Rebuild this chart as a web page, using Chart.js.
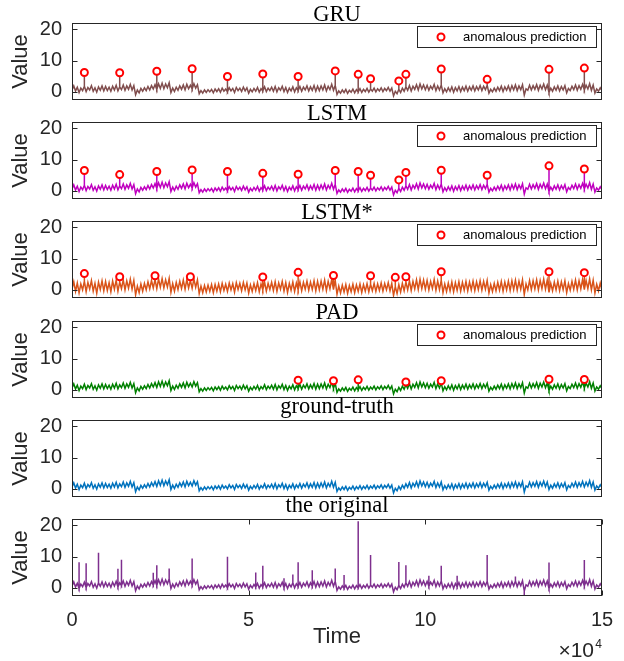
<!DOCTYPE html>
<html>
<head>
<meta charset="utf-8">
<script src="https://cdn.jsdelivr.net/npm/chart.js@4"></script>
<style>
  body { margin: 0; background: #ffffff; }
  #wrap { position: relative; width: 624px; height: 661px; }
  #wrap canvas { position: absolute; left: 0; }
</style>
</head>
<body>
<div id="wrap"></div>
<script>
// sample spacing of the series, in units of 10^4
const timeStep = 0.05

// ground-truth signal, one row per 1x10^4 of time
const groundTruth = [
  0.6,1.9,0.3,1.5,-0.2,1.2,0.4,1.8,0.1,1.4,0.6,2.0,0.2,1.3,-0.1,1.6,0.5,1.9,0.3,1.7,
  0.4,1.5,0.2,1.8,0.6,2.1,0.3,1.6,0.7,2.2,0.5,1.9,0.8,2.4,0.6,2.0,-0.9,0.6,-0.3,1.1,
  0.2,1.3,0.4,1.7,0.6,2.0,0.9,2.3,0.8,2.6,1.1,2.8,1.0,2.5,1.3,2.9,-0.2,1.2,0.1,1.5,
  0.5,1.9,0.8,2.2,0.6,2.4,1.0,2.1,0.9,2.6,1.2,2.3,-0.6,0.4,-0.4,0.6,-0.2,0.7,0.0,0.8,
  -0.3,0.9,0.1,1.0,-0.1,1.2,0.2,0.9,0.0,1.3,0.3,1.1,-0.2,1.4,0.4,1.2,0.1,1.5,0.3,1.3,
  -0.4,0.8,0.0,1.1,0.2,1.4,-0.1,1.0,0.3,1.6,0.1,1.2,0.4,1.5,0.2,1.7,0.0,1.3,0.5,1.8,
  0.1,1.4,-0.2,1.2,0.3,1.6,0.0,1.3,0.4,1.7,0.2,1.5,0.6,1.9,0.3,1.6,0.5,2.0,0.2,1.8,
  0.4,1.9,0.6,2.2,0.3,1.8,0.7,2.4,0.5,2.1,-0.8,0.3,-0.4,0.6,-0.2,0.8,-0.5,0.5,-0.1,0.9,
  -0.3,0.7,0.0,1.0,-0.2,0.8,0.1,1.1,-0.1,0.9,0.2,1.2,0.0,1.0,0.3,1.3,0.1,1.1,0.4,1.4,
  0.2,1.2,-1.3,0.2,-0.6,0.8,-0.2,1.2,0.2,1.6,0.5,2.0,0.3,1.8,0.8,2.3,0.6,2.5,0.9,2.2,
  0.7,2.1,0.5,1.8,0.9,2.4,0.4,1.9,0.6,2.2,-0.3,1.0,0.0,1.3,0.2,1.6,-0.1,1.4,0.3,1.7,
  0.1,1.5,0.4,1.8,0.2,1.6,0.5,1.9,0.3,1.7,0.6,2.0,0.4,1.8,0.7,2.1,-0.4,0.8,0.0,1.2,
  0.2,1.5,0.4,1.8,0.1,1.6,0.5,1.9,0.3,2.0,0.6,2.2,0.4,1.9,0.7,2.3,-1.0,1.0,0.5,2.1,
  0.6,2.0,0.8,2.3,0.5,2.1,0.9,2.5,0.7,2.2,-0.2,1.2,0.2,1.6,0.5,1.9,0.3,1.7,0.6,2.0,
  -0.3,1.1,0.4,1.8,0.7,2.2,0.5,2.0,0.8,2.4,0.6,2.1,0.9,2.6,0.5,2.2,-0.4,0.9,0.2,1.3,
  0.4
]

// LSTM* reconstruction is noisier than the others
const lstmStarSignal = [
  0.2,2.6,-0.5,2.2,-1.0,1.9,0.0,2.8,-0.6,2.4,0.3,3.0,-0.4,2.1,-1.1,2.5,0.1,2.9,-0.3,2.7,
  -0.2,2.3,-0.6,2.8,0.2,3.1,-0.4,2.5,0.4,3.2,0.0,2.9,0.5,3.4,0.2,3.0,-1.6,1.2,-0.9,1.9,
  -0.4,2.1,0.0,2.6,0.3,3.0,0.6,3.3,0.4,3.5,0.8,3.6,0.6,3.2,0.9,3.7,-0.8,2.0,-0.4,2.4,
  0.1,2.8,0.4,3.1,0.2,3.3,0.6,3.0,0.5,3.5,0.8,3.2,-1.2,1.2,-0.9,1.4,-0.7,1.5,-0.5,1.7,
  -0.9,1.7,-0.4,1.9,-0.6,2.1,-0.2,1.8,-0.5,2.2,0.0,2.0,-0.7,2.3,0.1,2.1,-0.3,2.4,0.0,2.2,
  -1.0,1.6,-0.5,2.0,-0.2,2.3,-0.6,1.9,0.0,2.5,-0.4,2.1,0.1,2.4,-0.2,2.6,-0.5,2.2,0.2,2.7,
  -0.4,2.3,-0.8,2.1,-0.1,2.5,-0.5,2.2,0.0,2.6,-0.3,2.4,0.2,2.8,-0.1,2.5,0.1,2.9,-0.3,2.7,
  0.0,2.8,0.2,3.1,-0.2,2.7,0.3,3.3,0.1,3.0,-1.4,1.2,-1.0,1.5,-0.7,1.7,-1.1,1.4,-0.6,1.8,
  -0.9,1.6,-0.5,1.9,-0.8,1.7,-0.4,2.0,-0.6,1.8,-0.3,2.1,-0.5,1.9,-0.2,2.2,-0.4,2.0,0.0,2.3,
  -0.3,2.1,-1.8,1.1,-1.2,1.7,-0.7,2.1,-0.3,2.5,0.0,2.9,-0.2,2.7,0.3,3.2,0.1,3.4,0.4,3.1,
  0.2,3.0,0.0,2.7,0.4,3.3,-0.1,2.8,0.1,3.1,-0.9,1.9,-0.5,2.2,-0.3,2.5,-0.6,2.3,-0.2,2.6,
  -0.4,2.4,-0.1,2.7,-0.3,2.5,0.0,2.8,-0.2,2.6,0.1,2.9,-0.1,2.7,0.2,3.0,-1.0,1.7,-0.5,2.1,
  -0.3,2.4,-0.1,2.7,-0.4,2.5,0.0,2.8,-0.2,2.9,0.1,3.1,-0.1,2.8,0.2,3.2,-1.5,1.9,0.0,3.0,
  0.1,2.9,0.3,3.2,0.0,3.0,0.4,3.4,0.2,3.1,-0.8,2.1,-0.3,2.5,0.0,2.8,-0.2,2.6,0.1,2.9,
  -0.9,2.0,-0.1,2.7,0.2,3.1,0.0,2.9,0.3,3.3,0.1,3.0,0.4,3.5,0.0,3.1,-1.0,1.8,-0.3,2.2,
  -0.2
]

// anomalous predictions (time x10^4, value)
const anomalyTimes = [0.35,1.35,2.40,3.40,4.40,5.40,6.40,7.45,8.10,8.45,9.25,9.45,10.45,11.75,13.50,14.50]
const gruPeaks = [6.2,6.1,6.6,7.4,4.9,5.7,4.9,6.7,5.6,4.2,3.5,5.6,7.3,4.0,7.2,7.6]
const lstmPeaks = [6.5,5.2,6.2,6.7,6.2,5.6,5.3,6.5,6.2,5.0,3.5,5.9,6.6,5.0,8.0,7.0]

const lstmStarTimes = [0.35,1.35,2.35,3.35,5.40,6.40,7.40,8.45,9.15,9.45,10.45,13.50,14.50]
const lstmStarPeaks = [5.2,4.2,4.5,4.2,4.1,5.6,4.6,4.5,4.0,4.2,5.8,5.8,5.5]

const padTimes = [6.40,7.40,8.10,9.45,10.45,13.50,14.50]
const padPeaks = [3.1,2.9,3.2,2.5,2.9,3.4,3.3]

// spikes present in the original series
const originalTimes = [0.20,0.40,0.75,1.30,1.40,2.30,2.40,2.75,3.40,4.40,5.20,5.40,6.00,6.25,6.40,6.80,7.45,7.70,8.10,8.45,9.25,9.45,10.10,10.45,10.90,11.75,12.55,12.80,13.50,14.50]
const originalPeaks = [8.2,7.9,11.2,6.1,9.0,4.8,7.2,6.2,9.4,9.9,4.9,7.1,3.1,4.3,8.2,5.6,6.2,4.1,21.3,10.5,8.3,7.2,3.9,7.1,3.9,10.5,3.6,-2.6,8.1,8.9]

const yTickValues = [0, 10, 20]
const xTickValues = [0, 5, 10, 15]
const legendLabel = "anomalous prediction"

const AXIS_COLOR = "#262626"
const SANS = '"Liberation Sans", Arial, sans-serif'
const SERIF = '"Liberation Serif", "Times New Roman", serif'

Chart.defaults.font.family = SANS

// base signal with spikes inserted as vertical strokes at the given times
function buildSeries(signal, times, peaks) {
  const spikeAt = {}
  times.forEach((t, k) => { spikeAt[Math.round(t / timeStep)] = peaks[k] })
  const pts = []
  signal.forEach((v, i) => {
    const x = i * timeStep
    pts.push({x: x, y: v})
    if (spikeAt[i] !== undefined) {
      pts.push({x: x, y: spikeAt[i]}, {x: x, y: v})
    }
  })
  return pts
}

// box, inward ticks, panel title, legend, axis exponent
const framePlugin = {
  id: "frame",
  afterDatasetsDraw(chart, args, opts) {
    const {ctx, chartArea: a} = chart
    const y = chart.scales.y
    const x = chart.scales.x
    const L = Math.round(a.left) + 0.5
    const R = Math.round(a.right) - 0.5
    const T = Math.round(a.top) + 0.5
    const B = Math.round(a.bottom) - 0.5
    ctx.save()
    ctx.strokeStyle = AXIS_COLOR
    ctx.lineWidth = 1
    ctx.strokeRect(L, T, R - L, B - T)
    ctx.beginPath()
    yTickValues.forEach(v => {
      const py = Math.round(y.getPixelForValue(v)) + 0.5
      ctx.moveTo(L, py); ctx.lineTo(L + 5, py)
      ctx.moveTo(R, py); ctx.lineTo(R - 5, py)
    })
    if (opts.xTicks) {
      xTickValues.forEach(v => {
        const px = Math.round(x.getPixelForValue(v)) + 0.5
        ctx.moveTo(px, B); ctx.lineTo(px, B - 5)
        ctx.moveTo(px, T); ctx.lineTo(px, T + 5)
      })
    }
    ctx.stroke()

    // title sits on the axes box by its glyph bottom
    ctx.font = "22.5px " + SERIF
    ctx.fillStyle = "#000000"
    ctx.textAlign = "center"
    ctx.textBaseline = "alphabetic"
    const m = ctx.measureText(opts.title)
    const desc = Math.max(0, m.actualBoundingBoxDescent || 0)
    ctx.fillText(opts.title, (a.left + a.right) / 2, a.top - 2.5 - desc)

    if (opts.legend) {
      const bx = Math.round(a.right - 185) + 0.5
      const by = Math.round(a.top + 3) + 0.5
      ctx.fillStyle = "#ffffff"
      ctx.fillRect(bx, by, 179, 21)
      ctx.strokeStyle = AXIS_COLOR
      ctx.strokeRect(bx, by, 179, 21)
      ctx.beginPath()
      ctx.arc(a.right - 161, a.top + 14, 3.5, 0, Math.PI * 2)
      ctx.strokeStyle = "#ff0000"
      ctx.lineWidth = 2
      ctx.stroke()
      ctx.font = "13px " + SANS
      ctx.fillStyle = "#000000"
      ctx.textAlign = "left"
      ctx.textBaseline = "middle"
      ctx.fillText(opts.legend, a.right - 139, a.top + 14.5)
    }

    if (opts.exponent) {
      ctx.fillStyle = AXIS_COLOR
      ctx.textAlign = "right"
      ctx.textBaseline = "alphabetic"
      ctx.font = "12px " + SANS
      ctx.fillText("4", a.right, a.bottom + 52)
      ctx.font = "21px " + SANS
      ctx.fillText("\u00d710", a.right - 8, a.bottom + 61)
    }
    ctx.restore()
  }
}

const panels = [
  {title: "GRU", color: "#804D4D", signal: groundTruth, times: anomalyTimes, peaks: gruPeaks, marks: true},
  {title: "LSTM", color: "#BF00BF", signal: groundTruth, times: anomalyTimes, peaks: lstmPeaks, marks: true},
  {title: "LSTM*", color: "#D95319", signal: lstmStarSignal, times: lstmStarTimes, peaks: lstmStarPeaks, marks: true},
  {title: "PAD", color: "#008000", signal: groundTruth, times: padTimes, peaks: padPeaks, marks: true},
  {title: "ground-truth", color: "#0072BD", signal: groundTruth, times: [], peaks: [], marks: false},
  {title: "the original", color: "#7E2F8E", signal: groundTruth, times: originalTimes, peaks: originalPeaks, marks: false},
]

const boxTops = [23, 122, 221, 321, 420, 519]
const boxHeight = 77
const wrap = document.getElementById("wrap")

panels.forEach((p, i) => {
  const last = i === panels.length - 1
  const canvas = document.createElement("canvas")
  const h = last ? 661 - (boxTops[i] - 23) : 23 + boxHeight
  canvas.width = 624
  canvas.height = h
  canvas.style.top = (boxTops[i] - 23) + "px"
  canvas.style.width = "624px"
  canvas.style.height = h + "px"
  wrap.appendChild(canvas)

  const datasets = [{
    label: p.title,
    data: buildSeries(p.signal, p.times, p.peaks),
    borderColor: p.color,
    borderWidth: 1.5,
    pointRadius: 0,
    tension: 0,
    order: 2,
  }]
  if (p.marks) {
    datasets.push({
      label: legendLabel,
      data: p.times.map((t, k) => ({x: t, y: p.peaks[k]})),
      showLine: false,
      pointStyle: "circle",
      pointRadius: 3.5,
      pointBorderWidth: 2,
      pointBorderColor: "#ff0000",
      pointBackgroundColor: "#ffffff",
      order: 1,
    })
  }

  new Chart(canvas, {
    type: "line",
    data: {datasets: datasets},
    options: {
      responsive: false,
      animation: false,
      layout: {autoPadding: false, padding: {top: 23, right: 22, left: 0, bottom: 0}},
      plugins: {
        legend: {display: false},
        tooltip: {enabled: false},
        frame: {
          title: p.title,
          legend: p.marks ? legendLabel : null,
          xTicks: last,
          exponent: last,
        },
      },
      scales: {
        x: {
          type: "linear",
          min: 0,
          max: 15,
          display: last,
          grid: {display: false, drawTicks: false},
          border: {display: false},
          afterBuildTicks: s => { s.ticks = xTickValues.map(v => ({value: v})) },
          afterFit: s => { s.height = last ? 65 : 0; s.paddingLeft = 0; s.paddingRight = 0 },
          ticks: {color: AXIS_COLOR, font: {size: 20}, padding: 12, maxRotation: 0},
          title: {display: true, text: "Time", color: AXIS_COLOR, font: {size: 22}, padding: {top: 0, bottom: 11}},
        },
        y: {
          min: -2.6,
          max: 22,
          grid: {display: false, drawTicks: false},
          border: {display: false},
          afterBuildTicks: s => { s.ticks = yTickValues.map(v => ({value: v})) },
          afterFit: s => { s.width = 72; s.paddingTop = 0; s.paddingBottom = 0 },
          ticks: {color: AXIS_COLOR, font: {size: 20}, padding: 10},
          title: {display: true, text: "Value", color: AXIS_COLOR, font: {size: 22}, padding: {top: 8, bottom: 0}},
        },
      },
    },
    plugins: [framePlugin],
  })
})
</script>
</body>
</html>
